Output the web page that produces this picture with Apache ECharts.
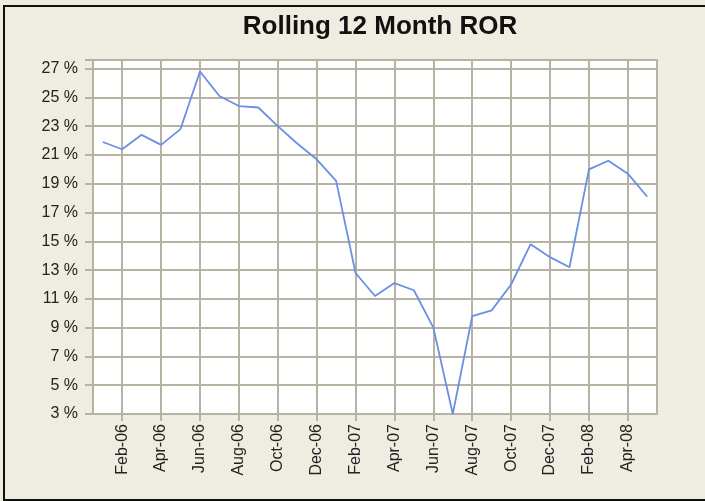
<!DOCTYPE html>
<html>
<head>
<meta charset="utf-8">
<script src="https://cdn.jsdelivr.net/npm/echarts@6/dist/echarts.min.js"></script>
<style>
html,body{margin:0;padding:0;background:#efece1;}
#chart{width:705px;height:501px;}
</style>
</head>
<body>
<div id="chart"></div>
<script>
const months = ['Jan-06','Feb-06','Mar-06','Apr-06','May-06','Jun-06','Jul-06','Aug-06','Sep-06','Oct-06','Nov-06','Dec-06',
  'Jan-07','Feb-07','Mar-07','Apr-07','May-07','Jun-07','Jul-07','Aug-07','Sep-07','Oct-07','Nov-07','Dec-07',
  'Jan-08','Feb-08','Mar-08','Apr-08','May-08'];
const ror = [21.9,21.4,22.4,21.7,22.8,26.8,25.1,24.4,24.3,23.0,21.8,20.7,
  19.2,12.8,11.2,12.1,11.6,9.0,3.0,9.8,10.2,12.0,14.8,13.9,
  13.2,20.0,20.6,19.7,18.1];
const yTicks = [3,5,7,9,11,13,15,17,19,21,23,25,27];

const chart = echarts.init(document.getElementById('chart'));
const gridColor = '#b6b2a4';
const everyOther = (i) => i % 2 === 1;
chart.setOption({
  backgroundColor: '#efece1',
  animation: false,
  title: {
    text: 'Rolling 12 Month ROR',
    left: 375, textAlign: 'center', top: 9,
    textStyle: {fontFamily: 'Liberation Sans, Arial, sans-serif', fontSize: 26, fontWeight: 'bold', color: '#111'}
  },
  graphic: [{
    type: 'polyline',
    shape: {points: [[705, 6], [4, 6], [4, 500], [705, 500]]},
    style: {stroke: '#111', lineWidth: 2, fill: null},
    silent: true
  }],
  grid: {left: 93, right: 48, top: 60, bottom: 87, show: true, backgroundColor: '#ffffff', borderColor: gridColor, borderWidth: 2},
  xAxis: {
    type: 'category',
    data: months,
    boundaryGap: true,
    axisLine: {show: true, lineStyle: {color: gridColor, width: 2}},
    axisTick: {show: true, alignWithLabel: true, interval: everyOther, length: 7, lineStyle: {color: gridColor, width: 2}},
    axisLabel: {interval: everyOther, rotate: 90, margin: 10, fontSize: 16, color: '#222', fontFamily: 'Liberation Sans, Arial, sans-serif'},
    splitLine: {show: true, alignWithLabel: true, interval: everyOther, lineStyle: {color: gridColor, width: 2}}
  },
  yAxis: {
    type: 'value',
    min: 3, max: 27.6, interval: 2,
    axisLine: {show: true, lineStyle: {color: gridColor, width: 2}},
    axisTick: {show: true, length: 8, lineStyle: {color: gridColor, width: 2}},
    axisLabel: {
      fontSize: 16, color: '#222', margin: 15, fontFamily: 'Liberation Sans, Arial, sans-serif',
      formatter: (v) => yTicks.indexOf(Math.round(v * 100) / 100) >= 0 ? v + ' %' : ''
    },
    splitLine: {show: true, lineStyle: {color: gridColor, width: 2}}
  },
  series: [{
    type: 'line',
    data: ror,
    symbol: 'none',
    lineStyle: {color: '#6b8fe4', width: 1.8}
  }]
});
</script>
</body>
</html>
